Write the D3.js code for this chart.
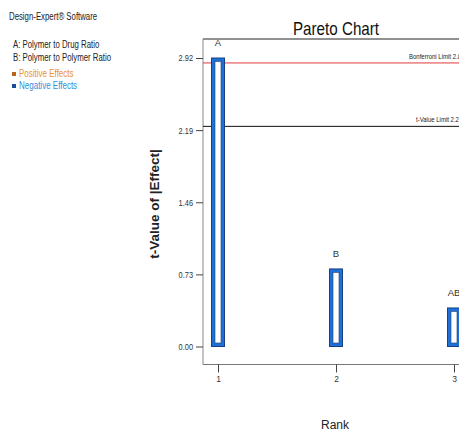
<!DOCTYPE html>
<html>
<head>
<meta charset="utf-8">
<script src="https://cdn.jsdelivr.net/npm/d3@7"></script>
<style>
  html, body { margin: 0; padding: 0; background: #fff; overflow: hidden; }
  svg { display: block; font-family: "Liberation Sans", Arial, sans-serif; }
</style>
</head>
<body>
<svg id="chart" width="459" height="432"></svg>
<script>
// Effect terms ranked by |t|
const terms = ["A", "B", "AB"];
const ranks = [1, 2, 3];
const tValues = [2.92, 0.785, 0.39];
const yTicks = [0.00, 0.73, 1.46, 2.19, 2.92];
const bonferroniLimit = 2.87;
const tValueLimit = 2.228;
const factorNotes = ["A: Polymer to Drug Ratio", "B: Polymer to Polymer Ratio"];

const svg = d3.select("#chart");

// squeeze a text horizontally to imitate a condensed face
function condense(sel, k) {
  sel.each(function () {
    const w = this.getComputedTextLength();
    d3.select(this).attr("textLength", w * k).attr("lengthAdjust", "spacingAndGlyphs");
  });
  return sel;
}

// plot frame (extends past the right edge of the window)
const frame = { left: 203, top: 39, bottom: 364.5, right: 600 };

const y = d3.scaleLinear().domain([0, 2.92]).range([346.5, 58]);
const x = d3.scaleLinear().domain([1, 2]).range([218, 336]);

// side notes
condense(svg.append("text").attr("x", 9).attr("y", 20)
  .attr("font-size", 10).attr("fill", "#222").text("Design-Expert® Software"), 0.78);
factorNotes.forEach((t, i) => {
  condense(svg.append("text").attr("x", 13).attr("y", 48 + i * 13)
    .attr("font-size", 10).attr("fill", "#222").text(t), 0.78);
});
const legend = [["Positive Effects", "#e8922e", "#b8641a"], ["Negative Effects", "#2f8fdc", "#1a4d99"]];
legend.forEach((d, i) => {
  const yy = 77 + i * 12;
  svg.append("rect").attr("x", 12).attr("y", yy - 5).attr("width", 4).attr("height", 4)
    .attr("fill", d[2]);
  condense(svg.append("text").attr("x", 19).attr("y", yy)
    .attr("font-size", 10).attr("fill", d[1]).text(d[0]), 0.8);
});

// title
condense(svg.append("text").attr("x", 336).attr("y", 35).attr("text-anchor", "middle")
  .attr("font-size", 19).attr("fill", "#111").text("Pareto Chart"), 0.8);

// frame lines
svg.append("line").attr("x1", frame.left).attr("x2", frame.right).attr("y1", frame.top).attr("y2", frame.top)
  .attr("stroke", "#222").attr("stroke-width", 1);
svg.append("line").attr("x1", frame.left).attr("x2", frame.left).attr("y1", frame.top).attr("y2", frame.bottom)
  .attr("stroke", "#888").attr("stroke-width", 1);
svg.append("line").attr("x1", frame.left).attr("x2", frame.right).attr("y1", frame.bottom).attr("y2", frame.bottom)
  .attr("stroke", "#777").attr("stroke-width", 1);

// y axis
const yAxis = d3.axisLeft(y).tickValues(yTicks).tickFormat(d3.format(".2f")).tickSize(7).tickPadding(3);
const gy = svg.append("g").attr("transform", `translate(${frame.left},0)`).call(yAxis);
gy.select(".domain").remove();
gy.selectAll(".tick line").attr("stroke", "#444");
condense(gy.selectAll(".tick text").attr("font-size", 9).attr("fill", "#333"), 0.82);

// x axis
const xAxis = d3.axisBottom(x).tickValues(ranks).tickFormat(d3.format("d")).tickSize(8).tickPadding(3);
const gx = svg.append("g").attr("transform", `translate(0,${frame.bottom})`).call(xAxis);
gx.select(".domain").remove();
gx.selectAll(".tick line").attr("stroke", "#444");
gx.selectAll(".tick text").attr("font-size", 8.5).attr("fill", "#333");

// axis titles
svg.append("text").attr("transform", `translate(159,204) rotate(-90)`).attr("text-anchor", "middle")
  .attr("font-size", 13.5).attr("font-weight", "bold").attr("fill", "#222").text("t-Value of |Effect|");
svg.append("text").attr("x", 335).attr("y", 429).attr("text-anchor", "middle")
  .attr("font-size", 12).attr("fill", "#222").text("Rank");

// limit lines
svg.append("line").attr("x1", frame.left).attr("x2", frame.right)
  .attr("y1", y(bonferroniLimit)).attr("y2", y(bonferroniLimit))
  .attr("stroke", "#e03a3a").attr("stroke-width", 1);
condense(svg.append("text").attr("x", 409).attr("y", y(bonferroniLimit) - 4)
  .attr("font-size", 7.5).attr("fill", "#222").text("Bonferroni Limit " + bonferroniLimit.toFixed(5)), 0.8);
svg.append("line").attr("x1", frame.left).attr("x2", frame.right)
  .attr("y1", y(tValueLimit)).attr("y2", y(tValueLimit))
  .attr("stroke", "#111").attr("stroke-width", 1);
condense(svg.append("text").attr("x", 416).attr("y", y(tValueLimit) - 4)
  .attr("font-size", 7.5).attr("fill", "#222").text("t-Value Limit " + tValueLimit.toFixed(5)), 0.8);

// bars
const bw = 13;
const bars = svg.append("g").selectAll("g").data(terms).join("g");
bars.append("rect")
  .attr("x", (d, i) => x(ranks[i]) - bw / 2)
  .attr("y", (d, i) => y(tValues[i]))
  .attr("width", bw)
  .attr("height", (d, i) => y(0) - y(tValues[i]))
  .attr("fill", "#1f6fd8").attr("stroke", "#17427e").attr("stroke-width", 1);
bars.append("rect")
  .attr("x", (d, i) => x(ranks[i]) - bw / 2 + 3.5)
  .attr("y", (d, i) => y(tValues[i]) + 3.5)
  .attr("width", bw - 7)
  .attr("height", (d, i) => y(0) - y(tValues[i]) - 7)
  .attr("fill", "#fff").attr("stroke", "#23446e").attr("stroke-width", 0.6);
bars.append("text")
  .attr("x", (d, i) => x(ranks[i]))
  .attr("y", (d, i) => y(tValues[i]) - 12)
  .attr("text-anchor", "middle").attr("font-size", 9.5).attr("fill", "#333")
  .text(d => d);
</script>
</body>
</html>
